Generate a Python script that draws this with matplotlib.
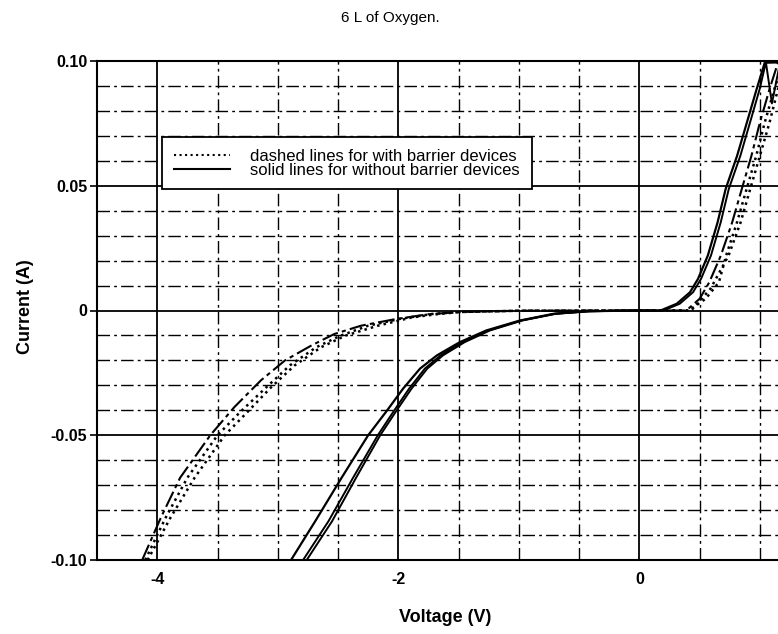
import numpy as np
import matplotlib
matplotlib.use("Agg")
import matplotlib.pyplot as plt
from matplotlib.lines import Line2D

plt.rcParams['font.family'] = ['Liberation Sans', 'DejaVu Sans']

# --- values (voltage in V, current in A) ---

# without barrier, reverse branch (solid, double line)
v_solid_rev_a = [-2.89, -2.69, -2.47, -2.25, -2.10, -1.96, -1.82, -1.68, -1.49, -1.27, -0.99, -0.71, -0.43, 0.0]
i_solid_rev_a = [-0.100, -0.0845, -0.067, -0.050, -0.0405, -0.0313, -0.0233, -0.018, -0.0127, -0.008, -0.004, -0.0013, -0.0003, 0.0]
v_solid_rev_b = [-2.79, -2.58, -2.375, -2.17, -2.04, -1.91, -1.78, -1.65, -1.47, -1.25, -0.98, -0.70, -0.42, 0.0]
i_solid_rev_b = [-0.100, -0.0845, -0.067, -0.050, -0.0405, -0.0313, -0.0233, -0.018, -0.0127, -0.008, -0.004, -0.0013, -0.0003, 0.0]
v_solid_rev_c = [-2.76, -2.55, -2.35, -2.15, -2.02, -1.89, -1.76, -1.63, -1.45, -1.24, -0.97, -0.69, -0.41, 0.0]
i_solid_rev_c = [-0.100, -0.0845, -0.067, -0.050, -0.0405, -0.0313, -0.0233, -0.018, -0.0127, -0.008, -0.004, -0.0013, -0.0003, 0.0]

# without barrier, forward branch
v_solid_fwd_a = [0.0, 0.176, 0.31, 0.42, 0.487, 0.568, 0.649, 0.716, 0.811, 0.892, 0.973, 1.04, 1.20]
i_solid_fwd_a = [0.0, 0.0, 0.0027, 0.0073, 0.0127, 0.022, 0.0353, 0.0487, 0.062, 0.0753, 0.0887, 0.0993, 0.0995]
v_solid_fwd_b = [0.0, 0.20, 0.335, 0.445, 0.512, 0.594, 0.675, 0.742, 0.838, 0.918, 0.998, 1.05, 1.10, 1.17]
i_solid_fwd_b = [0.0, 0.0, 0.0027, 0.0073, 0.0127, 0.022, 0.0353, 0.0487, 0.062, 0.0753, 0.0887, 0.0995, 0.083, 0.100]

# with barrier, reverse branch (dash-dot + dotted)
v_dash_rev_a = [-4.125, -3.97, -3.81, -3.56, -3.36, -3.14, -2.94, -2.72, -2.53, -2.31, -2.03, -1.75, -1.49, -1.0, 0.0]
i_dash_rev_a = [-0.100, -0.083, -0.067, -0.050, -0.0387, -0.028, -0.020, -0.014, -0.0094, -0.0061, -0.0035, -0.0015, -0.0006, -0.0001, 0.0]
v_dot_rev_a = [-4.10, -3.93, -3.75, -3.50, -3.31, -3.10, -2.90, -2.68, -2.48, -2.25, -1.98, -1.72, -1.49, -1.0, 0.0]
i_dot_rev_a = [-0.100, -0.083, -0.067, -0.050, -0.0406, -0.031, -0.022, -0.0147, -0.0101, -0.0061, -0.0033, -0.0014, -0.0006, -0.0001, 0.0]
v_dot_rev_b = [-4.08, -3.89, -3.69, -3.44, -3.25, -3.06, -2.86, -2.64, -2.44, -2.17, -1.89, -1.70, -1.49, -1.0, 0.0]
i_dot_rev_b = [-0.100, -0.083, -0.067, -0.050, -0.0406, -0.031, -0.022, -0.0147, -0.0101, -0.0061, -0.0028, -0.0016, -0.0006, -0.0001, 0.0]

# with barrier, forward branch
v_dash_fwd_a = [0.0, 0.39, 0.50, 0.58, 0.676, 0.77, 0.85, 0.93, 1.0, 1.08, 1.15]
i_dash_fwd_a = [0.0, 0.0, 0.0047, 0.0113, 0.022, 0.0353, 0.0487, 0.062, 0.0753, 0.0887, 0.0993]
v_dot_fwd_a = [0.0, 0.41, 0.55, 0.66, 0.72, 0.81, 0.89, 0.97, 1.04, 1.12, 1.19]
i_dot_fwd_a = [0.0, 0.0, 0.0047, 0.0113, 0.022, 0.0353, 0.0487, 0.062, 0.0753, 0.0887, 0.0993]
v_dot_fwd_b = [0.0, 0.43, 0.59, 0.74, 0.84, 0.92, 1.0, 1.08, 1.15, 1.22]
i_dot_fwd_b = [0.0, 0.0, 0.0087, 0.022, 0.0353, 0.0487, 0.062, 0.0753, 0.0887, 0.0993]

y_ticks = [-0.10, -0.05, 0.0, 0.05, 0.10]
y_labels = ['-0.10', '-0.05', '0', '0.05', '0.10']
x_ticks = [-4, -2, 0]
x_labels = ['-4', '-2', '0']

fig = plt.figure(figsize=(7.78, 6.34), dpi=100)
ax = fig.add_axes([97 / 778, 74 / 634, 0.883, 499 / 634])
ax.set_xlim(-4.5, 1.2)
ax.set_ylim(-0.10, 0.10)

# grid: solid majors, dash-dot minors
dashdot = (0, (9, 3, 2, 3))
for y in np.arange(-0.09, 0.1, 0.01):
    if abs(round(y / 0.05) * 0.05 - y) < 1e-6:
        ax.axhline(y, color='black', lw=1.3, zorder=1)
    else:
        ax.axhline(y, color='black', lw=1.0, ls=dashdot, zorder=1)
for x in np.arange(-4.0, 1.1, 0.5):
    if abs(x) < 1e-6 or abs(x + 2) < 1e-6 or abs(x + 4) < 1e-6:
        ax.axvline(x, color='black', lw=1.3, zorder=1)
    else:
        ax.axvline(x, color='black', lw=1.0, ls=dashdot, zorder=1)

# without barrier: solid
ax.plot(v_solid_rev_a, i_solid_rev_a, color='black', lw=1.6, zorder=3)
ax.plot(v_solid_rev_b, i_solid_rev_b, color='black', lw=1.4, zorder=3)
ax.plot(v_solid_rev_c, i_solid_rev_c, color='black', lw=1.4, zorder=3)
ax.plot(v_solid_fwd_a, i_solid_fwd_a, color='black', lw=1.6, zorder=3)
ax.plot(v_solid_fwd_b, i_solid_fwd_b, color='black', lw=1.4, zorder=3)

# with barrier: dash-dot and dotted
ax.plot(v_dash_rev_a, i_dash_rev_a, color='black', lw=1.5, ls=(0, (8, 2, 2, 2)), zorder=3)
ax.plot(v_dot_rev_a, i_dot_rev_a, color='black', lw=1.8, ls=':', zorder=3)
ax.plot(v_dot_rev_b, i_dot_rev_b, color='black', lw=1.8, ls=':', zorder=3)
ax.plot(v_dash_fwd_a, i_dash_fwd_a, color='black', lw=1.5, ls=(0, (8, 2, 2, 2)), zorder=3)
ax.plot(v_dot_fwd_a, i_dot_fwd_a, color='black', lw=1.8, ls=':', zorder=3)
ax.plot(v_dot_fwd_b, i_dot_fwd_b, color='black', lw=1.8, ls=':', zorder=3)

for s in ['top', 'left', 'bottom']:
    ax.spines[s].set_linewidth(1.5)
ax.spines['right'].set_visible(False)

ax.set_yticks(y_ticks)
ax.set_yticklabels(y_labels, fontsize=11.5, fontweight='bold')
ax.set_xticks(x_ticks)
ax.set_xticklabels(x_labels, fontsize=11.5, fontweight='bold')
ax.tick_params(axis='y', length=5, width=1.2, pad=2)
ax.tick_params(axis='x', length=0, pad=9)

handles = [Line2D([], [], color='black', lw=1.5, ls=':'),
           Line2D([], [], color='black', lw=1.5)]
leg = ax.legend(handles, ['dashed lines for with barrier devices',
                          'solid lines for without barrier devices'],
                loc='upper left', bbox_to_anchor=(0.0946, 0.848), borderaxespad=0,
                fontsize=12, handlelength=3.4, handletextpad=1.2,
                labelspacing=-0.05, borderpad=0.7, fancybox=False, framealpha=1)
leg.get_frame().set_edgecolor('black')
leg.get_frame().set_linewidth(1.3)
leg.set_zorder(5)

fig.text(390 / 778, 1 - 18 / 634, '6 L of Oxygen.', ha='center', va='center', fontsize=11)
fig.text(445 / 778, 1 - 618 / 634, 'Voltage (V)', ha='center', va='center',
         fontsize=13, fontweight='bold')
fig.text(25 / 778, 1 - 307 / 634, 'Current (A)', ha='center', va='center',
         rotation=90, fontsize=13, fontweight='bold')

fig.savefig('out.png', dpi=100)
